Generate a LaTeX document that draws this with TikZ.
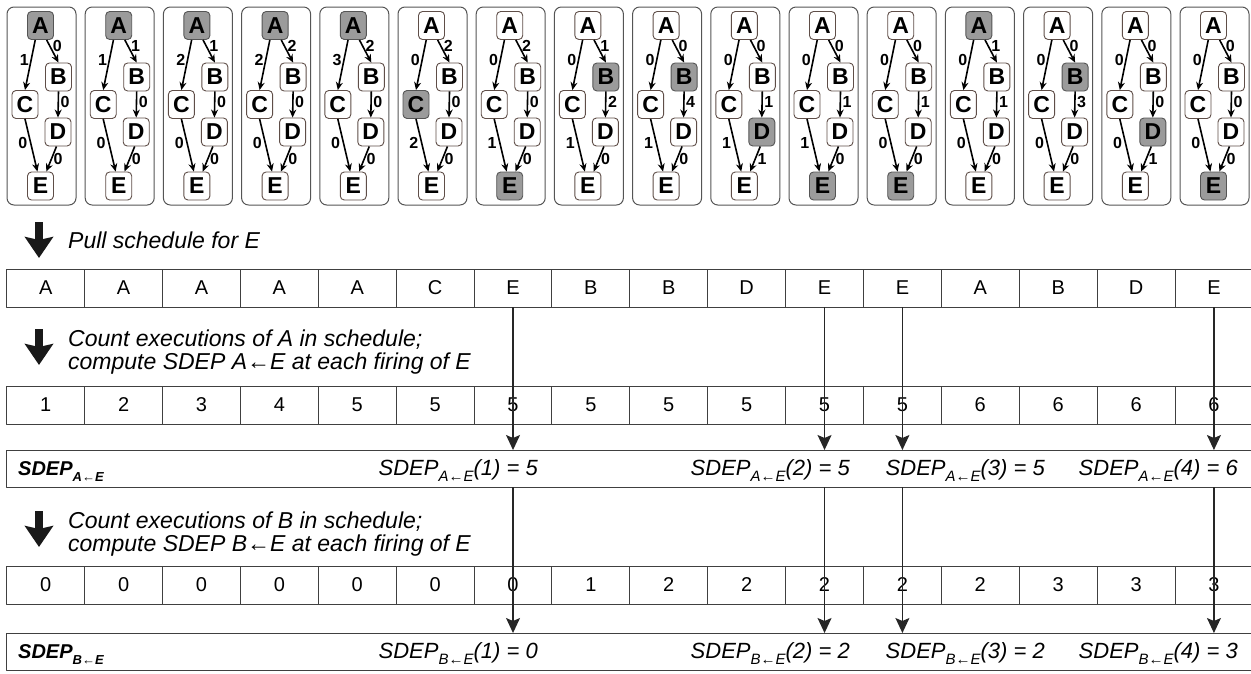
\documentclass[tikz,border=0pt]{standalone}
\usepackage{fontspec}
\setmainfont{Liberation Sans}
\usetikzlibrary{arrows.meta}
\definecolor{vien}{RGB}{95,78,72}
\definecolor{xam}{RGB}{155,155,155}
\definecolor{khung}{RGB}{85,85,85}
\newcommand{\setfs}[1]{\fontsize{#1}{#1}\selectfont}
\newcommand{\sdeplbl}[2]{SDEP\raisebox{-6pt}{\setfs{15}#1}#2}
\begin{document}
\begin{tikzpicture}[x=1pt,y=-1pt,line join=round,>=Stealth,
	vtx/.style={draw=vien,line width=0.9pt,fill=white,rounded corners=4pt,minimum width=26pt,minimum height=28pt,inner sep=0pt,font=\setfs{23}\bfseries},
	vtxon/.style={vtx,draw=khung,fill=xam},
	canh/.style={line width=1.6pt,-{Stealth[length=8pt,width=7pt]}},
	nhan/.style={font=\setfs{16}\bfseries,inner sep=1.5pt},
	khungbox/.style={draw=khung,line width=1pt,rounded corners=7pt},
	cell/.style={draw=black!75,line width=1pt,minimum width=77.88pt,minimum height=38pt,inner sep=0pt,outer sep=0pt,font=\setfs{20}},
	dong/.style={draw=black!75,line width=1pt,minimum width=1246pt,minimum height=37pt,inner sep=0pt,outer sep=0pt},
	muiten/.style={line width=1.2pt,draw=black!85,-{Stealth[length=15pt,width=14pt,inset=3pt]}},
	muito/.style={line width=8pt,draw=black!90,-{Stealth[length=21pt,width=28pt,inset=3pt]}},
	chu/.style={font=\setfs{23}\itshape,inner sep=0pt,anchor=base west},
	gia/.style={font=\setfs{22}\itshape,inner sep=0pt,anchor=base east}]
	\useasboundingbox (0,0) rectangle (1251,673);
	%Vẽ các khung đồ thị
	\foreach \i/\act/\ac/\ab/\bd/\ce/\de in {1/A/1/0/0/0/0,2/A/1/1/0/0/0,3/A/2/1/0/0/0,4/A/2/2/0/0/0,5/A/3/2/0/0/0,6/C/0/2/0/2/0,7/E/0/2/0/1/0,8/B/0/1/2/1/0,9/B/0/0/4/1/0,10/D/0/0/1/1/1,11/E/0/0/1/1/0,12/E/0/0/1/0/0,13/A/0/1/1/0/0,14/B/0/0/3/0/0,15/D/0/0/0/0/1,16/E/0/0/0/0/0}{
		\pgfmathsetmacro{\xo}{7+(\i-1)*78.2}
		\draw[khungbox] (\xo,7) rectangle ++(69,198);
		\foreach \n/\px/\py in {A/33.5/25.5,B/51.5/77,C/18/104.5,D/51/132,E/33.5/186}{
			\edef\tmpa{\n}\edef\tmpb{\act}
			\ifx\tmpa\tmpb \def\kieu{vtxon}\else\def\kieu{vtx}\fi
			\node[\kieu] (\n\i) at (\xo+\px,\py) {\n};
		}
		\draw[canh] (A\i.250) -- node[nhan,left,pos=0.4]{\ac} (C\i.north);
		\draw[canh] (A\i.293) -- node[nhan,right=1pt,pos=0.25]{\ab} (B\i.north);
		\draw[canh] (B\i.south) -- node[nhan,right,pos=0.4]{\bd} (D\i.north);
		\draw[canh] (C\i.south) -- node[nhan,left=1pt,pos=0.45]{\ce} (E\i.102);
		\draw[canh] (D\i.264) -- node[nhan,right,pos=0.5]{\de} (E\i.68);
	}
	%Mũi tên lớn và chú thích
	\node[chu] (t1) at (68,248) {Pull schedule for E};
	\draw[muito] ([xshift=-29pt,yshift=26pt]t1.base west) -- ++(0,36);
	\node[chu] (t2) at (68,346) {Count executions of A in schedule;};
	\node[chu] (t3) at ([yshift=-23pt]t2.base west) {compute SDEP A←E at each firing of E};
	\draw[muito] ([xshift=-29pt,yshift=17pt]t2.base west) -- ++(0,36);
	\node[chu] (t4) at (68,528) {Count executions of B in schedule;};
	\node[chu] (t5) at ([yshift=-23pt]t4.base west) {compute SDEP B←E at each firing of E};
	\draw[muito] ([xshift=-29pt,yshift=17pt]t4.base west) -- ++(0,36);
	%Vẽ các hàng
	\foreach \v [count=\k] in {A,A,A,A,A,C,E,B,B,D,E,E,A,B,D,E}
		\node[cell] (s\k) at ({6.8+(\k-0.5)*77.88},288) {\v};
	\foreach \v [count=\k] in {1,2,3,4,5,5,5,5,5,5,5,5,6,6,6,6}
		\node[cell] (a\k) at ({6.8+(\k-0.5)*77.88},405) {\v};
	\node[dong] (rowA) at (629.8,468.5) {};
	\foreach \v [count=\k] in {0,0,0,0,0,0,0,1,2,2,2,2,2,3,3,3}
		\node[cell] (b\k) at ({6.8+(\k-0.5)*77.88},585) {\v};
	\node[dong] (rowB) at (629.8,651.5) {};
	%Nhãn SDEP
	\node[anchor=base west,inner sep=0pt,font=\setfs{20}\bfseries\itshape] (lA) at (18,475) {SDEP\raisebox{-6pt}{\setfs{13}A←E}};
	\node[anchor=base west,inner sep=0pt,font=\setfs{20}\bfseries\itshape] (lB) at (18,658) {SDEP\raisebox{-6pt}{\setfs{13}B←E}};
	\foreach \x/\j/\va/\vb in {538/1/5/0,850/2/5/2,1045/3/5/2,1238/4/6/3}{
		\node[gia] (vA\j) at (\x,475) {\sdeplbl{A←E}{(\j) = \va}};
		\node[gia] (vB\j) at (\x,658) {\sdeplbl{B←E}{(\j) = \vb}};
	}
	%Mũi tên dọc
	\foreach \k in {7,11,12,16}{
		\draw[muiten] (s\k.south) -- (s\k.south |- rowA.north);
		\draw[muiten] (s\k.south |- rowA.south) -- (s\k.south |- rowB.north);
	}
\end{tikzpicture}
\end{document}
